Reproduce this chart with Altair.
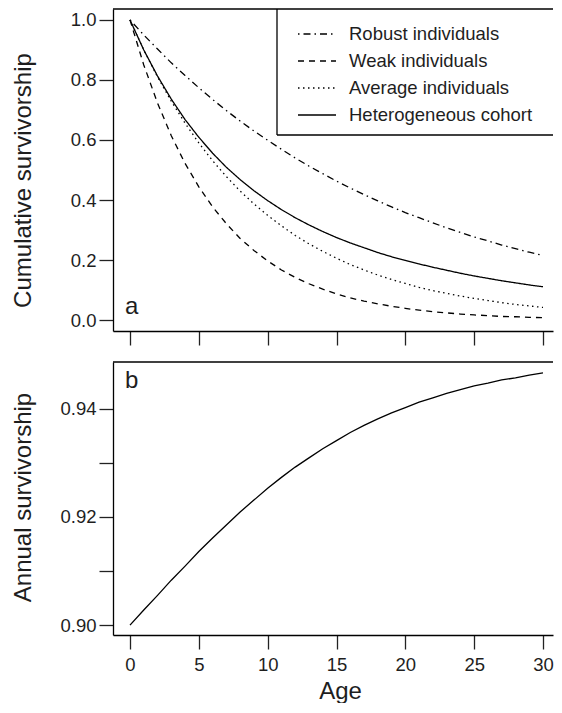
import altair as alt
import pandas as pd

# ---- data ----
ages = list(range(0, 31))

robust = [1.000, 0.950, 0.903, 0.857, 0.815, 0.774, 0.735, 0.698, 0.663, 0.630,
          0.599, 0.569, 0.540, 0.513, 0.488, 0.463, 0.440, 0.418, 0.397, 0.377,
          0.358, 0.341, 0.324, 0.307, 0.292, 0.277, 0.264, 0.250, 0.238, 0.226,
          0.215]
weak = [1.000, 0.850, 0.723, 0.614, 0.522, 0.444, 0.377, 0.321, 0.272, 0.232,
        0.197, 0.167, 0.142, 0.121, 0.103, 0.087, 0.074, 0.063, 0.054, 0.046,
        0.039, 0.033, 0.028, 0.024, 0.020, 0.017, 0.015, 0.012, 0.011, 0.009,
        0.008]
average = [1.000, 0.900, 0.810, 0.729, 0.656, 0.590, 0.531, 0.478, 0.430, 0.387,
           0.349, 0.314, 0.282, 0.254, 0.229, 0.206, 0.185, 0.167, 0.150, 0.135,
           0.122, 0.109, 0.098, 0.089, 0.080, 0.072, 0.065, 0.058, 0.052, 0.047,
           0.042]
hetero = [1.000, 0.900, 0.813, 0.736, 0.668, 0.609, 0.556, 0.509, 0.468, 0.431,
          0.398, 0.368, 0.341, 0.317, 0.295, 0.275, 0.257, 0.241, 0.225, 0.211,
          0.199, 0.187, 0.176, 0.166, 0.156, 0.147, 0.139, 0.131, 0.124, 0.117,
          0.111]
annual = [0.9000, 0.9028, 0.9055, 0.9083, 0.9109, 0.9136, 0.9161, 0.9185, 0.9209, 0.9231,
          0.9253, 0.9273, 0.9292, 0.9309, 0.9326, 0.9341, 0.9356, 0.9369, 0.9381, 0.9392,
          0.9402, 0.9412, 0.9420, 0.9428, 0.9435, 0.9442, 0.9447, 0.9453, 0.9457, 0.9462,
          0.9466]

series_names = ["Robust individuals", "Weak individuals",
                "Average individuals", "Heterogeneous cohort"]
dashes = [[1.5, 4, 7, 4], [6, 5], [1.5, 3.5], [1, 0]]

x_ticks = [0, 5, 10, 15, 20, 25, 30]
top_y_ticks = [0.0, 0.2, 0.4, 0.6, 0.8, 1.0]
bottom_y_ticks = [0.90, 0.91, 0.92, 0.93, 0.94]

rows = []
for name, vals in zip(series_names, [robust, weak, average, hetero]):
    for a, v in zip(ages, vals):
        rows.append({"age": a, "value": v, "series": name})
df_top = pd.DataFrame(rows)
df_bot = pd.DataFrame({"age": ages, "value": annual})

FONT = "Liberation Sans"
TXT = "#1e1e1e"
W = 440
PX = 413 / 30.0
X_DOM = [-17 / PX, (W - 17) / PX]
H_TOP = 322
H_BOT = 273
one = pd.DataFrame({"k": [0]})

x_top = alt.X("age:Q", scale=alt.Scale(domain=X_DOM, nice=False, zero=False),
              axis=alt.Axis(values=x_ticks, labels=False, title=None))
y_top = alt.Y("value:Q", scale=alt.Scale(domain=[-0.0364, 1.0364], nice=False, zero=False),
              axis=alt.Axis(values=top_y_ticks, format=".1f", title="Cumulative survivorship",
                            titleX=-83, titleY=171, titleAngle=270, titleAlign="center",
                            titleBaseline="alphabetic"))

lines_top = alt.Chart(df_top).mark_line(color="black", strokeWidth=1.3).encode(
    x=x_top,
    y=y_top,
    strokeDash=alt.StrokeDash(
        "series:N",
        scale=alt.Scale(domain=series_names, range=dashes),
        legend=alt.Legend(
            title=None, orient="none", legendX=193.5, legendY=14.5,
            symbolType="M-2,0H2", symbolSize=361, symbolStrokeWidth=1.3,
            symbolStrokeColor="black", labelFont=FONT, labelFontSize=18.5,
            labelColor=TXT, labelOffset=21.5, rowPadding=7, padding=0,
            labelLimit=400,
        ),
    ),
)

# legend frame (open on the right, like the cropped original)
box = alt.Chart(one).mark_rect(fill="white", strokeWidth=0).encode(
    x=alt.value(164), x2=alt.value(W), y=alt.value(0), y2=alt.value(126))
box_left = alt.Chart(one).mark_rule(color="black", strokeWidth=1.3).encode(
    x=alt.value(164), y=alt.value(0), y2=alt.value(126))
box_bottom = alt.Chart(one).mark_rule(color="black", strokeWidth=1.3).encode(
    x=alt.value(164), x2=alt.value(W), y=alt.value(126))

top_edge = alt.Chart(one).mark_rule(color="black", strokeWidth=1.3).encode(
    x=alt.value(0), x2=alt.value(W), y=alt.value(0))

label_a = alt.Chart(pd.DataFrame({"t": ["a"]})).mark_text(
    font=FONT, fontSize=24, color=TXT, align="left", baseline="alphabetic"
).encode(x=alt.value(12), y=alt.value(305), text="t:N")

top = alt.layer(lines_top, box, box_left, box_bottom, top_edge, label_a).properties(
    width=W, height=H_TOP)

x_bot = alt.X("age:Q", scale=alt.Scale(domain=X_DOM, nice=False, zero=False),
              axis=alt.Axis(values=x_ticks, format="d", title="Age", labelPadding=6,
                            titleX=227, titleY=63, titleBaseline="alphabetic",
                            titleAlign="center"))
y_bot = alt.Y("value:Q", scale=alt.Scale(domain=[0.89817, 0.94862], nice=False, zero=False),
              axis=alt.Axis(values=bottom_y_ticks,
                            labelExpr="round(datum.value*100) % 2 == 0 ? format(datum.value, '.2f') : ''",
                            title="Annual survivorship",
                            titleX=-83, titleY=135, titleAngle=270, titleAlign="center",
                            titleBaseline="alphabetic"))

line_bot = alt.Chart(df_bot).mark_line(color="black", strokeWidth=1.3).encode(x=x_bot, y=y_bot)
top_edge_b = alt.Chart(one).mark_rule(color="black", strokeWidth=1.3).encode(
    x=alt.value(0), x2=alt.value(W), y=alt.value(0))
label_b = alt.Chart(pd.DataFrame({"t": ["b"]})).mark_text(
    font=FONT, fontSize=24, color=TXT, align="left", baseline="alphabetic"
).encode(x=alt.value(12), y=alt.value(26), text="t:N")

bottom = alt.layer(line_bot, top_edge_b, label_b).properties(width=W, height=H_BOT)

chart = alt.vconcat(top, bottom, spacing=15).properties(
    padding={"left": 3, "top": 0, "right": 0, "bottom": 0}
).configure_view(
    strokeWidth=0
).configure_axis(
    grid=False, domain=True, domainColor="black", domainWidth=1.3,
    tickSize=14, tickWidth=1.3, tickColor="#222",
    labelFont=FONT, labelFontSize=18.5, labelColor=TXT, labelPadding=3,
    titleFont=FONT, titleFontSize=24, titleFontWeight="normal", titleColor=TXT,
).configure_axisX(labelAngle=0)

chart.save("out.html", embed_options={"renderer": "svg", "actions": False})
